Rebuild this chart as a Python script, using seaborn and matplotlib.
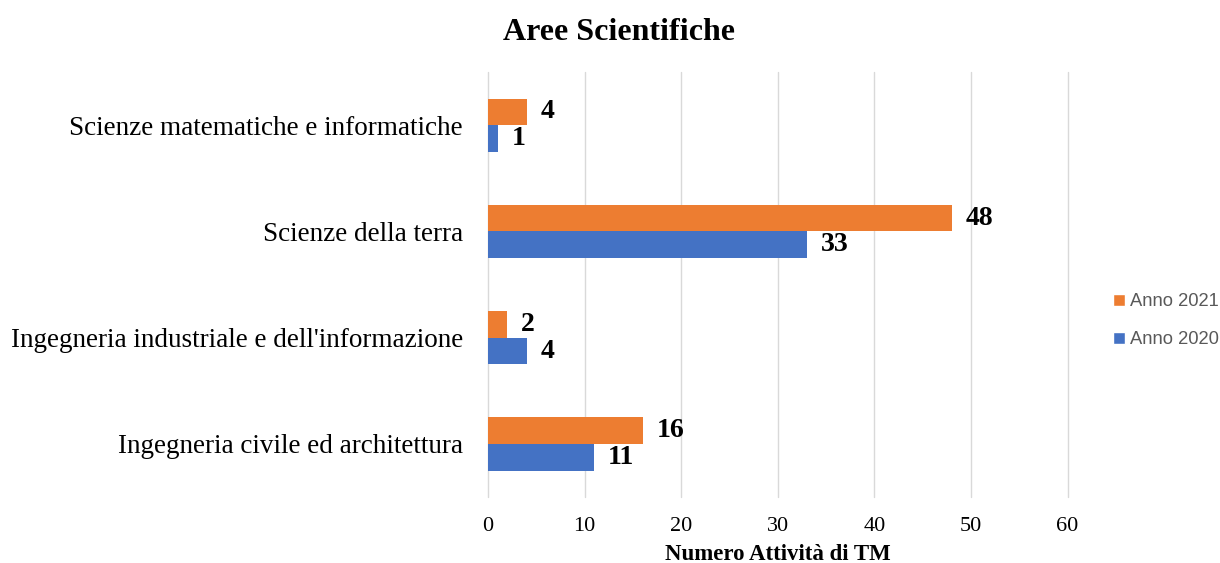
import pandas as pd
import matplotlib.pyplot as plt
import seaborn as sns
from matplotlib.patches import Patch

categories = [
    "Scienze matematiche e informatiche",
    "Scienze della terra",
    "Ingegneria industriale e dell'informazione",
    "Ingegneria civile ed architettura",
]
anno_2021 = [4, 48, 2, 16]
anno_2020 = [1, 33, 4, 11]
series = ["Anno 2021", "Anno 2020"]
colors = {"Anno 2021": "#ED7D31", "Anno 2020": "#4472C4"}
xticks = [0, 10, 20, 30, 40, 50, 60]


def main():
    df = pd.DataFrame({
        "area": categories * 2,
        "serie": [series[0]] * 4 + [series[1]] * 4,
        "valore": anno_2021 + anno_2020,
    })

    sns.set_style("white")
    plt.rcParams["font.family"] = ["Liberation Serif", "DejaVu Serif"]
    plt.rcParams["text.color"] = "black"
    plt.rcParams["xtick.color"] = "black"
    plt.rcParams["ytick.color"] = "black"
    plt.rcParams["axes.labelcolor"] = "black"

    fig = plt.figure(figsize=(12.2, 5.63), dpi=100)
    ax = fig.add_axes([0.4, 0.117, 0.475, 0.755])
    sns.barplot(data=df, y="area", x="valore", hue="serie", order=categories,
                hue_order=series, palette=colors, orient="h", width=0.5,
                gap=0, ax=ax, legend=False, saturation=1, edgecolor="none")

    for cont in ax.containers:
        ax.bar_label(cont, padding=10, fontsize=20, fontweight="bold", color="black")

    ax.set_xlim(0, 60)
    ax.set_xticks(xticks)
    ax.set_ylim(3.5, -0.5)
    ax.grid(axis="x", color="#D9D9D9", linewidth=1)
    for gl in ax.get_xgridlines():
        gl.set_clip_on(False)
    ax.set_axisbelow(True)
    for s in ax.spines.values():
        s.set_visible(False)
    ax.tick_params(axis="x", labelsize=16, length=0, pad=14)
    ax.tick_params(axis="y", labelsize=19.5, length=0, pad=18)
    ax.set_ylabel("")
    ax.set_xlabel("Numero Attività di TM", fontsize=16.5, fontweight="bold", labelpad=6)

    fig.suptitle("Aree Scientifiche", fontsize=23, fontweight="bold", x=0.507, y=0.968)

    handles = [Patch(facecolor=colors[s], label=s) for s in series]
    fig.legend(handles=handles, loc="center left", bbox_to_anchor=(0.912, 0.43),
               frameon=False, prop={"family": "Liberation Sans", "size": 13.2},
               labelcolor="#595959", handlelength=0.7, handleheight=0.7,
               handletextpad=0.25, labelspacing=1.15, borderpad=0, borderaxespad=0)

    fig.savefig("out.png", dpi=100)
    plt.close(fig)


if __name__ == "__main__":
    main()
